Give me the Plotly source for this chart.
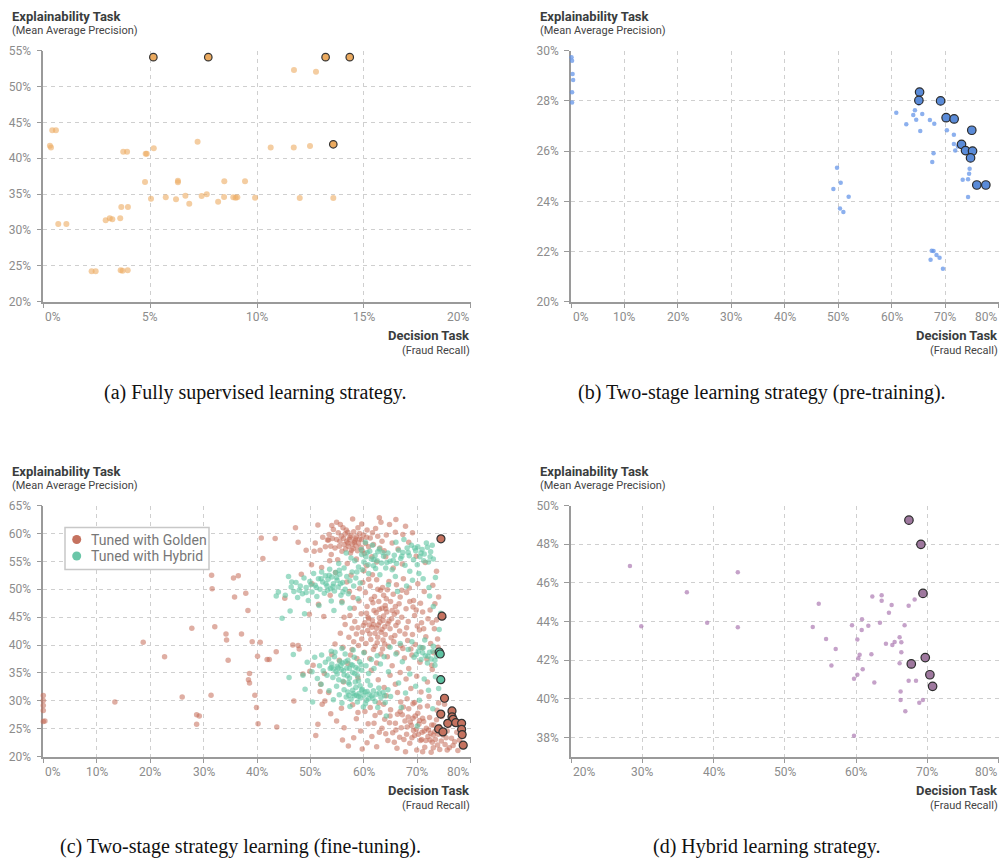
import plotly.graph_objects as go

# ---------------- data ----------------
# (a) Fully supervised
a_light = [(11.73, 52.3), (12.76, 52.07), (0.31, 41.75), (0.36, 41.5), (0.42, 43.9), (0.59, 43.9),
           (3.74, 40.9), (3.92, 40.9), (4.79, 40.64), (4.84, 40.64), (5.17, 41.4), (7.22, 42.3),
           (10.64, 41.5), (11.72, 41.5), (12.48, 41.7), (4.76, 36.7), (6.30, 36.85), (6.30, 36.65),
           (8.47, 36.8), (9.44, 36.8), (5.04, 34.36), (5.73, 34.55), (6.21, 34.27), (6.65, 34.78),
           (6.83, 33.66), (7.41, 34.74), (7.65, 34.97), (8.18, 33.94), (8.46, 34.6), (8.89, 34.55),
           (9.0, 34.5), (9.08, 34.55), (9.91, 34.5), (12.0, 34.45), (13.57, 34.45), (3.65, 33.2),
           (3.96, 33.2), (2.92, 31.35), (3.11, 31.63), (3.23, 31.48), (3.60, 31.63), (0.70, 30.83),
           (1.08, 30.83), (2.26, 24.23), (2.45, 24.23), (3.62, 24.37), (3.71, 24.3), (3.95, 24.37)]
a_best = [(5.15, 54.1), (7.72, 54.1), (13.21, 54.1), (14.34, 54.1), (13.57, 41.95)]

# (b) Two-stage pre-training
b_light = [(0.1, 29.74), (0.2, 29.6), (0.3, 29.07), (0.4, 28.83), (0.2, 28.34), (0.2, 27.94),
           (60.87, 27.53), (62.74, 27.07), (64.05, 27.44), (64.36, 27.63), (64.6, 27.25), (65.1, 27.9),
           (65.73, 27.48), (65.36, 26.8), (67.16, 27.24), (67.98, 27.09), (70.34, 26.83), (71.65, 26.65),
           (71.65, 26.28), (71.9, 26.02), (72.4, 26.18), (67.85, 25.91), (67.6, 25.57), (74.6, 25.3),
           (74.5, 25.1), (73.3, 24.86), (74.3, 24.88), (49.78, 25.34), (50.47, 24.74), (49.1, 24.49),
           (51.96, 24.18), (74.3, 24.17), (50.34, 23.71), (50.97, 23.57), (67.5, 22.03), (67.85, 22.02),
           (68.4, 21.86), (68.97, 21.75), (67.29, 21.67), (69.6, 21.31)]
b_best = [(65.23, 28.35), (65.1, 28.02), (69.16, 28.0), (70.2, 27.33), (71.7, 27.28), (75.0, 26.83),
          (73.08, 26.27), (73.83, 26.02), (75.14, 26.0), (74.77, 25.73), (75.94, 24.65), (77.63, 24.65)]

# (c) Two-stage fine-tuning: tuned with golden labels
golden_scatter = [(0, 30.95), (0, 30.05), (0, 29.15), (0, 28.26), (0.3, 26.4), (0, 26.3), (13.4, 29.8),
                  (18.7, 40.5), (22.7, 37.9), (26.0, 30.7), (27.8, 43.0), (28.7, 27.5), (29.2, 27.3),
                  (28.7, 25.8), (31.4, 31.0), (31.5, 52.5), (31.6, 50.1), (32.1, 43.3), (34.2, 42.0),
                  (34.3, 40.9), (34.6, 37.3), (35.6, 52.0), (35.8, 48.6), (36.5, 52.4), (37.1, 42.0),
                  (37.9, 49.3), (38.3, 46.2), (38.4, 33.8), (38.6, 34.9), (38.6, 33.2), (39.1, 40.6),
                  (39.6, 31.0), (39.9, 28.8), (40.1, 38.0), (40.2, 25.9), (40.6, 40.5), (40.8, 59.2),
                  (41.1, 55.5), (41.9, 37.4), (42.3, 37.4), (43.4, 59.1), (43.6, 38.8), (43.7, 25.3),
                  (45.2, 48.4), (46.7, 40.0), (46.9, 30.0), (47.2, 61.0), (47.7, 58.4), (47.7, 39.9),
                  (47.9, 39.3), (48.6, 34.8), (49.2, 57.0), (49.9, 35.3), (50.2, 54.4), (50.7, 56.8),
                  (51.4, 61.5), (51.4, 25.8), (51.8, 31.7), (52.7, 30.0)]
golden_upper = [(52.3, 59.3), (52.8, 57.6), (53.2, 58.8), (53.5, 59.8), (53.4, 58.8), (53.9, 56.2),
                (54.1, 59.1), (54.3, 60.7), (54.6, 57.4), (54.9, 62.0), (55.2, 60.1), (55.5, 58.6),
                (55.8, 59.5), (55.9, 56.8), (56.1, 61.0), (56.3, 58.0), (56.5, 59.9), (56.6, 57.2),
                (56.8, 58.6), (57.0, 60.2), (57.1, 57.7), (57.3, 58.9), (57.5, 56.5), (57.6, 59.6),
                (57.8, 58.1), (58.0, 57.3), (58.1, 60.3), (58.3, 58.7), (58.5, 57.8), (58.6, 59.4),
                (58.8, 56.9), (59.0, 58.3), (59.2, 60.0), (59.4, 57.5), (59.6, 58.9), (59.9, 59.7),
                (60.1, 56.4), (60.3, 58.2), (60.6, 60.6), (60.9, 57.6), (61.2, 59.2), (61.5, 55.8),
                (61.8, 58.0), (62.2, 60.9), (62.9, 62.8), (63.4, 58.6), (63.8, 56.9), (64.2, 59.7),
                (64.8, 61.6), (65.3, 58.3), (65.9, 60.2), (66.4, 57.2), (67.3, 59.8), (67.8, 61.3),
                (68.4, 58.4), (69.1, 60.1), (55.1, 55.3), (56.9, 54.6), (58.6, 55.4), (60.5, 54.2),
                (62.4, 54.9), (64.1, 55.8), (53.6, 55.1), (50.9, 58.3), (51.8, 57.0), (63.2, 62.0),
                (66.0, 62.5), (57.9, 62.6), (59.6, 61.7), (54.0, 61.4), (56.2, 59.1), (57.4, 59.3),
                (58.4, 59.0), (57.7, 57.0), (56.7, 60.6), (58.9, 61.0), (55.4, 57.7), (59.7, 56.9),
                (60.5, 59.3), (61.6, 60.1), (62.6, 59.5), (63.0, 57.4), (57.0, 58.3), (58.2, 58.4),
                (59.2, 59.0), (55.6, 61.6), (54.9, 58.9), (53.8, 57.7)]
golden_mid = [(59.8, 51.2), (61.2, 50.6), (62.4, 51.7), (63.5, 50.3), (64.7, 51.4), (66.1, 50.8),
              (67.4, 51.9), (68.5, 50.2), (70.1, 51.0), (71.3, 49.6), (60.3, 49.4), (62.0, 48.7),
              (63.1, 49.8), (64.2, 48.3), (65.5, 49.1), (66.8, 48.6), (68.0, 49.4), (69.3, 48.0),
              (70.6, 47.5), (59.1, 47.9), (58.2, 46.6), (60.6, 46.9), (61.7, 47.6), (62.9, 46.4),
              (64.0, 47.1), (65.3, 46.2), (66.6, 47.4), (67.9, 46.5), (69.2, 46.8), (71.0, 45.9),
              (72.4, 46.3), (57.4, 45.3), (59.5, 45.6), (60.8, 45.0), (61.6, 44.4), (62.3, 45.8),
              (63.0, 44.1), (63.7, 45.2), (64.5, 43.8), (65.2, 44.7), (66.0, 43.5), (67.1, 45.0),
              (68.3, 44.2), (69.5, 45.3), (70.8, 44.0), (72.0, 44.7), (56.5, 43.7), (58.3, 44.2),
              (59.9, 43.5), (60.7, 42.6), (61.5, 43.2), (62.1, 42.1), (62.7, 43.6), (63.4, 42.8),
              (64.0, 41.9), (64.9, 42.9), (65.8, 41.7), (66.7, 42.5), (68.0, 43.1), (69.1, 41.9),
              (70.4, 42.7), (71.6, 41.5), (73.2, 42.9), (55.6, 42.1), (57.2, 41.4), (58.6, 42.0),
              (59.6, 41.1), (60.4, 40.3), (61.3, 41.0), (62.5, 40.4), (63.6, 40.9), (64.6, 39.8),
              (65.6, 40.6), (66.9, 39.9), (68.2, 40.8), (69.6, 40.1), (70.9, 39.5), (72.5, 40.3),
              (73.8, 41.1), (54.6, 40.2), (56.1, 39.6), (57.8, 39.2), (59.0, 39.9), (60.1, 38.7),
              (61.8, 39.2), (63.2, 38.4), (64.4, 37.9), (66.2, 38.6), (67.6, 37.7), (69.0, 38.2),
              (70.5, 36.9), (54.0, 38.3), (55.4, 37.3), (57.0, 36.7), (58.7, 37.6), (62.4, 36.8),
              (65.3, 36.3), (68.4, 35.8), (71.8, 37.5), (73.1, 38.6), (60.9, 44.7), (62.8, 47.8),
              (64.3, 45.9), (61.9, 46.2), (63.9, 43.3), (62.6, 41.4), (65.7, 45.5), (61.1, 42.0),
              (60.2, 44.0), (63.4, 46.6), (61.8, 43.7), (62.9, 44.9), (63.6, 44.4), (64.7, 44.3),
              (62.4, 43.0), (63.2, 42.3), (61.0, 43.6), (60.5, 45.7), (64.1, 46.5), (65.9, 46.9),
              (61.4, 48.2), (63.7, 48.9), (59.7, 42.3), (58.9, 43.1), (62.1, 39.8), (63.9, 40.2),
              (65.1, 41.3), (66.4, 44.1), (67.7, 42.0), (66.2, 45.9), (58.1, 40.6), (57.5, 38.2),
              (61.1, 37.6), (63.5, 39.3), (67.3, 39.4), (68.8, 39.3), (70.0, 43.4), (71.2, 42.9),
              (72.8, 44.0), (69.8, 46.3), (68.6, 47.8), (67.1, 49.8), (65.0, 47.8), (60.9, 51.8),
              (59.2, 50.1), (58.0, 48.5), (56.3, 45.0), (57.8, 43.0), (62.6, 50.0), (64.4, 49.9)]
golden_between = [(50.5, 36.4), (51.9, 33.0), (52.6, 34.9), (53.4, 31.5), (56.2, 33.4), (58.9, 34.1),
                  (61.4, 35.5), (62.7, 33.8), (63.8, 32.4), (64.9, 34.6), (65.9, 33.0), (66.8, 35.1),
                  (67.9, 33.9), (68.8, 32.2), (69.9, 34.4), (70.7, 31.6), (71.9, 33.4), (72.8, 35.6),
                  (64.2, 30.9), (66.3, 31.5), (68.1, 30.4), (69.5, 29.7), (72.2, 30.8), (48.3, 52.7),
                  (50.3, 51.0), (52.1, 53.9), (54.7, 53.0), (57.6, 52.5), (60.0, 53.3), (61.6, 52.6),
                  (65.5, 53.8), (67.2, 54.5), (69.8, 55.9), (71.5, 54.8), (73.6, 53.2), (72.9, 50.7),
                  (74.0, 48.6), (73.3, 47.4), (73.6, 44.5), (73.9, 39.6), (72.7, 36.4), (49.8, 45.5),
                  (51.5, 47.3), (53.7, 48.9), (55.9, 47.8), (57.3, 49.6), (56.8, 51.3), (52.5, 45.1)]
golden_low = [(55.8, 28.7), (56.3, 25.2), (57.9, 29.3), (58.6, 26.8), (59.4, 24.6), (60.2, 28.1),
              (60.8, 25.9), (61.5, 23.6), (62.1, 27.4), (62.8, 29.6), (63.4, 25.1), (63.9, 26.7),
              (64.5, 22.9), (65.0, 28.4), (65.4, 24.3), (65.9, 26.0), (66.3, 27.6), (66.7, 23.5),
              (67.0, 25.2), (67.4, 28.9), (67.7, 26.4), (68.0, 24.0), (68.3, 27.1), (68.6, 22.4),
              (68.9, 25.6), (69.2, 26.9), (69.5, 23.8), (69.8, 24.9), (70.1, 27.8), (70.3, 25.8),
              (70.6, 22.9), (70.9, 24.4), (71.2, 26.3), (71.4, 21.7), (71.7, 25.1), (72.0, 23.6),
              (72.3, 27.0), (72.5, 24.2), (72.8, 22.6), (73.1, 25.7), (73.4, 23.1), (73.6, 26.6),
              (73.9, 24.0), (74.2, 21.3), (74.5, 22.8), (74.8, 23.9), (75.2, 22.2), (75.6, 24.6),
              (76.0, 21.6), (76.4, 23.3), (77.0, 22.7), (77.6, 21.1), (78.3, 22.4), (66.2, 21.5),
              (67.8, 20.9), (69.9, 21.2), (72.6, 20.8), (64.1, 24.1), (62.4, 21.8), (60.6, 22.5),
              (58.1, 23.4), (57.1, 21.9), (61.9, 26.0), (63.0, 27.9), (64.8, 26.1), (66.8, 28.1),
              (68.4, 28.6), (70.5, 28.9), (71.9, 29.1), (73.7, 28.3), (74.6, 27.2), (69.3, 24.7),
              (70.8, 23.1), (72.1, 24.8), (73.3, 24.5), (67.5, 23.1), (68.7, 26.2), (71.0, 26.9),
              (74.1, 25.4), (65.7, 22.6), (63.7, 29.4), (59.7, 21.4), (75.9, 25.6), (76.8, 26.3),
              (77.4, 24.4), (78.6, 23.6), (76.2, 27.9), (75.1, 29.4), (52.2, 29.4), (53.8, 27.7),
              (54.9, 26.4), (51.0, 23.8), (56.0, 23.0), (58.9, 27.9), (69.0, 23.4), (70.2, 24.0),
              (71.3, 24.6), (72.4, 23.0), (73.0, 23.9), (73.8, 22.1), (71.6, 22.9), (70.4, 26.5),
              (68.1, 25.3), (69.6, 27.3), (72.7, 25.7), (74.4, 24.6), (75.4, 23.4), (73.0, 21.6),
              (71.0, 20.9), (67.2, 27.5), (66.0, 24.8), (64.9, 27.3), (62.9, 24.4), (61.2, 28.8),
              (75.6, 21.2), (76.7, 22.0), (77.9, 23.0), (74.0, 29.6), (69.2, 29.5), (66.9, 29.8)]
golden_best = [(74.43, 59.03), (74.62, 45.18), (75.1, 30.47), (74.4, 27.63), (76.5, 28.2), (76.5, 27.15),
               (76.7, 26.7), (75.7, 25.98), (77.2, 26.1), (78.3, 25.98), (78.3, 24.9), (78.4, 23.96),
               (78.6, 22.07), (74.0, 24.97), (74.8, 24.44)]

# (c) Two-stage fine-tuning: tuned with hybrid labels
hybrid_upper = [(44.7, 44.8), (45.3, 48.9), (45.9, 52.3), (46.4, 50.4), (46.9, 49.6), (47.3, 51.2),
                (47.6, 48.5), (48.1, 50.6), (48.5, 49.2), (48.8, 52.0), (49.2, 50.3), (49.6, 48.0),
                (49.9, 51.4), (50.3, 49.5), (50.6, 52.8), (50.9, 50.7), (51.2, 48.7), (51.5, 51.9),
                (51.8, 50.0), (52.1, 53.1), (52.3, 51.3), (52.6, 49.3), (52.8, 52.4), (53.1, 50.6),
                (53.3, 51.8), (53.6, 53.6), (53.8, 50.1), (54.0, 52.2), (54.3, 51.0), (54.5, 49.7),
                (54.7, 53.0), (55.0, 51.6), (55.2, 50.4), (55.5, 52.7), (55.7, 48.9), (56.0, 51.2),
                (56.3, 53.8), (56.5, 50.0), (56.8, 52.3), (57.1, 49.2), (57.4, 51.5), (57.8, 53.1),
                (58.1, 50.6), (58.5, 52.0), (58.9, 48.3), (59.3, 51.1), (59.7, 53.5), (55.9, 47.6),
                (53.9, 47.9), (51.6, 47.1), (57.4, 46.6), (54.4, 46.2), (58.3, 55.1), (59.0, 54.0),
                (59.6, 56.2), (60.0, 54.9), (60.4, 55.8), (60.8, 54.4), (61.1, 56.8), (61.4, 55.4),
                (61.8, 54.2), (62.1, 56.0), (62.5, 55.1), (62.9, 57.2), (63.3, 54.7), (63.7, 55.9),
                (64.1, 53.8), (64.5, 56.5), (64.9, 55.0), (65.3, 53.5), (65.7, 56.1), (66.1, 54.6),
                (66.5, 57.0), (66.9, 55.5), (67.3, 56.6), (67.7, 54.3), (68.1, 57.4), (68.5, 56.0),
                (68.9, 57.9), (69.3, 55.3), (69.7, 56.9), (70.1, 57.6), (70.5, 55.8), (70.9, 57.1),
                (71.3, 56.3), (71.7, 58.3), (72.1, 54.9), (72.5, 56.7), (73.0, 55.4), (72.8, 57.9),
                (58.7, 53.1), (60.9, 52.8), (63.0, 52.6), (65.9, 52.3), (68.6, 53.2), (70.3, 52.8),
                (69.1, 51.6), (71.1, 51.9), (72.2, 50.3), (73.4, 52.1), (68.0, 50.6), (66.3, 49.6),
                (64.6, 50.8), (62.2, 53.7), (59.5, 57.1), (61.6, 57.9), (60.3, 58.4), (57.6, 55.6),
                (56.7, 56.5), (55.3, 54.6), (66.0, 58.4), (67.5, 58.9), (52.9, 51.0), (53.5, 52.5),
                (54.2, 50.5), (54.9, 52.1), (55.6, 51.0), (53.2, 49.8), (52.0, 51.9), (51.1, 50.3),
                (50.1, 50.8), (49.2, 49.4), (47.9, 49.8), (46.5, 51.3), (55.4, 53.4), (56.1, 49.5),
                (69.5, 57.4), (70.7, 56.5), (71.9, 57.5), (72.4, 55.8), (68.3, 56.6), (67.1, 55.9),
                (65.5, 55.2), (64.3, 54.8), (63.5, 56.6), (62.6, 56.7), (61.9, 55.3), (60.6, 56.6),
                (70.0, 54.4), (71.2, 55.1)]
hybrid_mid = [(48.6, 34.6), (49.4, 36.9), (50.3, 35.2), (50.8, 37.8), (51.3, 34.0), (51.7, 36.3),
              (52.1, 38.2), (52.4, 35.4), (52.8, 36.9), (53.1, 34.6), (53.4, 37.5), (53.7, 35.8),
              (54.0, 36.6), (54.2, 34.2), (54.5, 37.9), (54.8, 35.3), (55.0, 36.2), (55.3, 33.8),
              (55.5, 37.1), (55.8, 35.6), (56.0, 36.8), (56.3, 34.7), (56.5, 38.4), (56.8, 35.9),
              (57.0, 37.3), (57.3, 34.1), (57.6, 36.5), (57.9, 35.1), (58.2, 37.8), (58.5, 36.0),
              (58.8, 34.5), (59.2, 37.0), (59.6, 35.5), (60.0, 38.6), (60.4, 36.3), (60.9, 34.9),
              (61.4, 37.4), (61.9, 35.8), (62.5, 38.1), (63.1, 36.6), (63.8, 37.9), (64.6, 35.2),
              (53.9, 38.9), (55.9, 39.4), (58.0, 39.1), (57.1, 33.3), (59.0, 33.6), (52.0, 33.0),
              (66.0, 38.4), (67.2, 37.0), (68.3, 39.2), (69.4, 37.8), (70.2, 38.9), (70.7, 37.4),
              (71.1, 39.5), (71.5, 38.1), (71.9, 36.8), (72.3, 38.7), (72.6, 37.5), (73.0, 39.8),
              (73.3, 36.4), (64.9, 39.6), (66.8, 40.3), (69.0, 40.6), (71.4, 40.9), (73.6, 38.0),
              (55.2, 35.9), (56.2, 35.4), (57.3, 35.8), (56.6, 37.0), (55.7, 36.4), (54.3, 35.7),
              (57.9, 36.4), (58.9, 35.7), (53.9, 36.0), (56.9, 34.5), (55.0, 34.8), (58.3, 34.9),
              (54.6, 38.7), (59.5, 36.5), (71.0, 38.6), (72.0, 38.0), (72.9, 38.9), (73.3, 37.3),
              (70.5, 39.6), (69.8, 38.3)]
hybrid_low = [(53.5, 31.8), (54.3, 30.2), (54.9, 32.6), (55.4, 31.1), (55.9, 29.6), (56.3, 32.0),
              (56.7, 30.7), (57.0, 31.6), (57.3, 33.0), (57.6, 30.3), (57.9, 31.9), (58.2, 30.9),
              (58.5, 32.4), (58.8, 29.8), (59.1, 31.3), (59.4, 30.5), (59.7, 32.1), (60.0, 31.0),
              (60.3, 29.5), (60.6, 31.7), (60.9, 30.4), (61.2, 32.8), (61.5, 30.9), (61.8, 31.8),
              (62.1, 29.9), (62.4, 31.2), (62.8, 32.3), (63.2, 30.6), (63.6, 31.5), (64.0, 29.7),
              (64.5, 32.0), (65.0, 30.8), (58.4, 33.4), (60.7, 33.6), (56.1, 33.5), (59.9, 28.9),
              (62.6, 28.8), (57.4, 29.0), (58.0, 31.3), (59.0, 30.8), (60.2, 31.6), (61.0, 31.2),
              (59.6, 31.9), (58.6, 31.0), (60.5, 30.1), (61.7, 30.5), (57.2, 31.0), (62.9, 31.4),
              (59.3, 32.7), (63.9, 30.9)]
hybrid_scatter = [(66.5, 33.2), (67.8, 31.4), (68.6, 34.8), (69.7, 32.6), (70.4, 30.1), (71.3, 33.9),
                  (72.1, 31.9), (72.9, 28.6), (73.4, 34.3), (74.0, 32.2), (50.4, 29.8), (49.0, 32.1),
                  (46.0, 34.2), (46.8, 38.3), (64.2, 27.3), (67.0, 28.8), (70.0, 25.5), (44.0, 49.5),
                  (43.6, 48.8), (46.2, 46.1), (48.9, 45.6), (74.1, 42.8), (74.4, 45.7), (73.0, 46.9),
                  (72.3, 48.8)]
hybrid_best = [(74.1, 38.76), (74.3, 38.4), (74.4, 33.8)]

# (d) Hybrid learning
d_light = [(28.27, 46.87), (29.86, 43.75), (36.26, 45.51), (39.11, 43.93), (43.41, 46.55), (43.41, 43.7),
           (53.93, 43.71), (54.77, 44.91), (55.8, 43.09), (57.15, 42.58), (59.44, 43.8), (60.19, 43.06),
           (60.8, 43.56), (60.84, 44.11), (61.73, 43.78), (62.29, 45.29), (63.6, 45.36), (63.6, 45.07),
           (63.36, 43.93), (64.62, 44.45), (65.0, 44.85), (64.2, 42.84), (65.1, 42.78), (65.42, 42.94),
           (66.12, 43.18), (66.36, 42.92), (66.82, 43.8), (67.39, 44.81), (68.23, 45.14), (60.51, 42.27),
           (60.33, 42.1), (62.16, 42.3), (66.36, 42.41), (66.12, 41.84), (56.55, 41.72), (60.94, 41.53),
           (60.19, 41.24), (59.72, 41.03), (62.57, 40.84), (67.39, 40.93), (68.42, 40.93), (66.26, 40.38),
           (66.26, 39.93), (69.39, 39.93), (68.88, 39.79), (66.92, 39.35), (59.72, 38.09)]
d_best = [(67.43, 49.24), (69.11, 47.99), (69.4, 45.45), (69.72, 42.13), (67.76, 41.8), (70.37, 41.24),
          (70.75, 40.64)]

# axes ticks
a_xticks = [0, 5, 10, 15, 20]
a_yticks = [20, 25, 30, 35, 40, 45, 50, 55]
b_xticks = [0, 10, 20, 30, 40, 50, 60, 70, 80]
b_yticks = [20, 22, 24, 26, 28, 30]
c_xticks = [0, 10, 20, 30, 40, 50, 60, 70, 80]
c_yticks = [20, 25, 30, 35, 40, 45, 50, 55, 60, 65]
d_xticks = [20, 30, 40, 50, 60, 70, 80]
d_yticks = [38, 40, 42, 44, 46, 48, 50]

captions = ["(a) Fully supervised learning strategy.",
            "(b) Two-stage learning strategy (pre-training).",
            "(c) Two-stage strategy learning (fine-tuning).",
            "(d) Hybrid learning strategy."]
legend_labels = ["Tuned with Golden", "Tuned with Hybrid"]

# ---------------- layout helpers ----------------
W, H = 1000, 858
def PX(x): return x / W
def PY(y): return 1 - y / H

FONT = "Roboto"
TICKC = "#8c8c8c"
AXC = "#9a9a9a"
GRIDC = "#cfcfcf"

def xs(pts): return [p[0] for p in pts]
def ys(pts): return [p[1] for p in pts]

fig = go.Figure()

def add_pts(pts, ax, color, size, line=None):
    mk = dict(color=color, size=size)
    if line:
        mk["line"] = dict(color=line, width=1.2)
    else:
        mk["line"] = dict(width=0)
    fig.add_trace(go.Scatter(x=xs(pts), y=ys(pts), mode="markers", marker=mk,
                             xaxis="x" + ax, yaxis="y" + ax, cliponaxis=False,
                             showlegend=False, hoverinfo="x+y"))

# panel a
add_pts(a_light, "", "rgba(236,172,98,0.6)", 6)
add_pts(a_best, "", "#EBAA5F", 7.5, "#333333")
# panel b
add_pts(b_light, "2", "rgba(95,145,232,0.72)", 4.5)
add_pts(b_best, "2", "#5A8BD8", 8.5, "#2b2b2b")
# panel c
GOLD_S = "rgba(196,108,88,0.55)"
HYB_S = "rgba(95,196,162,0.6)"
for g in [golden_scatter, golden_upper, golden_mid, golden_between, golden_low]:
    add_pts(g, "3", GOLD_S, 5.5)
for h in [hybrid_upper, hybrid_mid, hybrid_low, hybrid_scatter]:
    add_pts(h, "3", HYB_S, 5.5)
add_pts(golden_best, "3", "#C5725F", 8, "#333333")
add_pts(hybrid_best, "3", "#5DC2A2", 8, "#333333")
# panel d
add_pts(d_light, "4", "rgba(172,122,178,0.7)", 4.5)
add_pts(d_best, "4", "#9E789E", 8.5, "#2b2b2b")

def xaxis(domain, anchor, rng, ticks):
    return dict(domain=domain, anchor=anchor, range=rng, tickvals=ticks, showticklabels=False,
                showline=True, linecolor=AXC, linewidth=1.5, ticks="outside", ticklen=5,
                tickcolor=AXC, tickwidth=1, showgrid=True, gridcolor=GRIDC, griddash="4px,4px",
                gridwidth=1, zeroline=False, layer="below traces", fixedrange=True,
                automargin=False)

def yaxis(domain, anchor, rng, ticks):
    return dict(domain=domain, anchor=anchor, range=rng, tickvals=ticks,
                ticktext=[f"{t}%" for t in ticks], showticklabels=True,
                tickfont=dict(family=FONT, size=12, color=TICKC), ticklabelstandoff=3,
                showline=True, linecolor=AXC, linewidth=1.5, ticks="outside", ticklen=5,
                tickcolor=AXC, tickwidth=1, showgrid=True, gridcolor=GRIDC, griddash="4px,4px",
                gridwidth=1, zeroline=False, layer="below traces", fixedrange=True,
                automargin=False)

XL, XR = [PX(43.3), PX(470.7)], [PX(571), PX(998.5)]
YT, YB = [PY(301.7), PY(50.7)], [PY(756.7), PY(505.5)]

panels = [
    dict(ax="", xd=XL, yd=YT, xr=[0, 20], yr=[20, 55], xt=a_xticks, yt=a_yticks, left=43.3, right=470.7, top=0, bottom=301.7, cap=(255, 392)),
    dict(ax="2", xd=XR, yd=YT, xr=[0, 80], yr=[20, 30], xt=b_xticks, yt=b_yticks, left=571, right=998.5, top=0, bottom=301.7, cap=(762, 392)),
    dict(ax="3", xd=XL, yd=YB, xr=[0, 80], yr=[20, 65], xt=c_xticks, yt=c_yticks, left=43.3, right=470.7, top=455, bottom=756.7, cap=(240, 846.5)),
    dict(ax="4", xd=XR, yd=YB, xr=[20, 80], yr=[37, 50], xt=d_xticks, yt=d_yticks, left=571, right=998.5, top=455, bottom=756.7, cap=(767, 846.5)),
]

layout = dict(width=W, height=H, margin=dict(l=0, r=0, t=0, b=0, pad=0, autoexpand=False),
              paper_bgcolor="white", plot_bgcolor="white", showlegend=False,
              font=dict(family=FONT))
annotations = []
shapes = []
for i, p in enumerate(panels):
    suffix = p["ax"]
    layout["xaxis" + suffix] = xaxis(p["xd"], "y" + suffix, p["xr"], p["xt"])
    layout["yaxis" + suffix] = yaxis(p["yd"], "x" + suffix, p["yr"], p["yt"])
    n = len(p["xt"])
    for k, t in enumerate(p["xt"]):
        anchor = "left" if k == 0 else ("right" if k == n - 1 else "center")
        annotations.append(dict(x=t, y=PY(p["bottom"] + 15.5), xref="x" + suffix, yref="paper",
                                text=f"{t}%", showarrow=False, xanchor=anchor, yanchor="middle",
                                font=dict(family=FONT, size=12, color=TICKC)))
    tx = 10 if p["left"] < 100 else 538
    annotations.append(dict(x=PX(tx), y=PY(p["top"] + 16.5), xref="paper", yref="paper",
                            text="<b>Explainability Task</b>", showarrow=False, xanchor="left",
                            yanchor="middle", font=dict(family=FONT, size=13, color="#3a3d3d")))
    annotations.append(dict(x=PX(tx), y=PY(p["top"] + 30.5), xref="paper", yref="paper",
                            text="(Mean Average Precision)", showarrow=False, xanchor="left",
                            yanchor="middle", font=dict(family=FONT, size=11, color="#444")))
    annotations.append(dict(x=PX(p["right"] + 1), y=PY(p["bottom"] + 34), xref="paper", yref="paper",
                            text="<b>Decision Task</b>", showarrow=False, xanchor="right",
                            yanchor="middle", font=dict(family=FONT, size=13, color="#3a3d3d")))
    annotations.append(dict(x=PX(p["right"] + 1), y=PY(p["bottom"] + 48.5), xref="paper", yref="paper",
                            text="(Fraud Recall)", showarrow=False, xanchor="right",
                            yanchor="middle", font=dict(family=FONT, size=11, color="#444")))
    annotations.append(dict(x=PX(p["cap"][0]), y=PY(p["cap"][1]), xref="paper", yref="paper",
                            text=captions[i], showarrow=False, xanchor="center", yanchor="middle",
                            font=dict(family="Liberation Serif", size=20, color="#111")))

shapes.append(dict(type="rect", xref="paper", yref="paper", x0=PX(65), x1=PX(209),
                   y0=PY(569.5), y1=PY(527.5), line=dict(color="#c8c8c8", width=1.5),
                   fillcolor="white", layer="above"))
for j, (lab, col) in enumerate(zip(legend_labels, ["#C5725F", "#6AC6A8"])):
    cy = 539.5 + 16.5 * j
    shapes.append(dict(type="circle", xref="paper", yref="paper", x0=PX(72.2), x1=PX(81.2),
                       y0=PY(cy + 4.5), y1=PY(cy - 4.5), fillcolor=col, line=dict(width=0),
                       layer="above"))
    annotations.append(dict(x=PX(88.5), y=PY(cy), xref="paper", yref="paper", text=lab,
                            showarrow=False, xanchor="left", yanchor="middle",
                            font=dict(family=FONT, size=14, color="#777")))

layout["annotations"] = annotations
layout["shapes"] = shapes
fig.update_layout(**layout)

fig.write_html("out.html", config={"displayModeBar": False},
               post_script="document.documentElement.style.margin='0';document.body.style.margin='0';document.body.style.overflow='hidden';")
